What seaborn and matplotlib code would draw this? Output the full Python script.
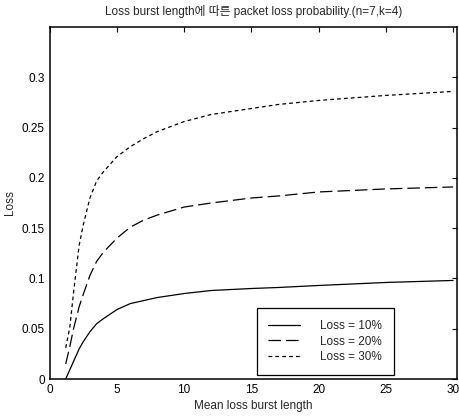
import pandas as pd
import numpy as np
import matplotlib.pyplot as plt
import seaborn as sns

# mean loss burst length
burst_len = [1.2, 1.5, 1.8, 2.2, 2.5, 3, 3.5, 4, 5, 6, 7, 8, 10, 12, 15, 17, 20, 25, 30]
loss_10 = [0.0, 0.009, 0.018, 0.030, 0.037, 0.047, 0.055, 0.060, 0.069, 0.075, 0.078, 0.081,
           0.085, 0.088, 0.090, 0.091, 0.093, 0.096, 0.098]
loss_20 = [0.015, 0.032, 0.051, 0.072, 0.084, 0.103, 0.117, 0.126, 0.140, 0.151, 0.158, 0.163,
           0.171, 0.175, 0.180, 0.182, 0.186, 0.189, 0.191]
loss_30 = [0.031, 0.051, 0.088, 0.133, 0.153, 0.180, 0.197, 0.206, 0.221, 0.231, 0.239, 0.246,
           0.256, 0.263, 0.269, 0.273, 0.277, 0.282, 0.286]
series_names = ['Loss = 10%', 'Loss = 20%', 'Loss = 30%']

df = pd.DataFrame({'x': burst_len, series_names[0]: loss_10,
                   series_names[1]: loss_20, series_names[2]: loss_30})
df = pd.melt(df, id_vars=['x'], value_vars=series_names, var_name='series', value_name='loss')

sns.set_style('white')
plt.rcParams['font.family'] = ['Liberation Sans', 'Noto Sans CJK KR', 'DejaVu Sans']
plt.rcParams['xtick.direction'] = 'in'
plt.rcParams['ytick.direction'] = 'in'

fig = plt.figure(figsize=(4.59, 4.18), dpi=100)
ax = fig.add_axes([0.108, 0.0933, 0.888, 0.842])

sns.lineplot(data=df, x='x', y='loss', hue='series', style='series',
             palette=['black'] * 3,
             dashes={series_names[0]: '', series_names[1]: (10, 4), series_names[2]: (3, 2.5)},
             linewidth=0.9, ax=ax)

ax.set_xlim(0, 30.3)
ax.set_ylim(0, 0.35)
ax.set_xticks(np.arange(0, 31, 5))
ax.set_yticks([0, 0.05, 0.1, 0.15, 0.2, 0.25, 0.3])
ax.set_yticklabels(['0', '0.05', '0.1', '0.15', '0.2', '0.25', '0.3'])
ax.tick_params(labelsize=8.5, top=True, right=True, length=3.5, width=0.8, colors='black')
for s in ax.spines.values():
    s.set_color('black')
    s.set_linewidth(1.1)

ax.set_xlabel('Mean loss burst length', fontsize=8.5, labelpad=3)
ax.set_ylabel('Loss', fontsize=8.5, labelpad=4)
ax.set_title('Loss burst length에 따른 packet loss probability.(n=7,k=4)', fontsize=8.5, pad=9)

leg = ax.legend(loc='upper left', bbox_to_anchor=(0.508, 0.201), fontsize=8.5,
                frameon=True, fancybox=False, edgecolor='black', framealpha=1,
                handlelength=2.7, handletextpad=1.7, borderpad=1.0, borderaxespad=0,
                labelspacing=0.3)
leg.get_frame().set_linewidth(0.9)

fig.savefig('out.png', dpi=100)
